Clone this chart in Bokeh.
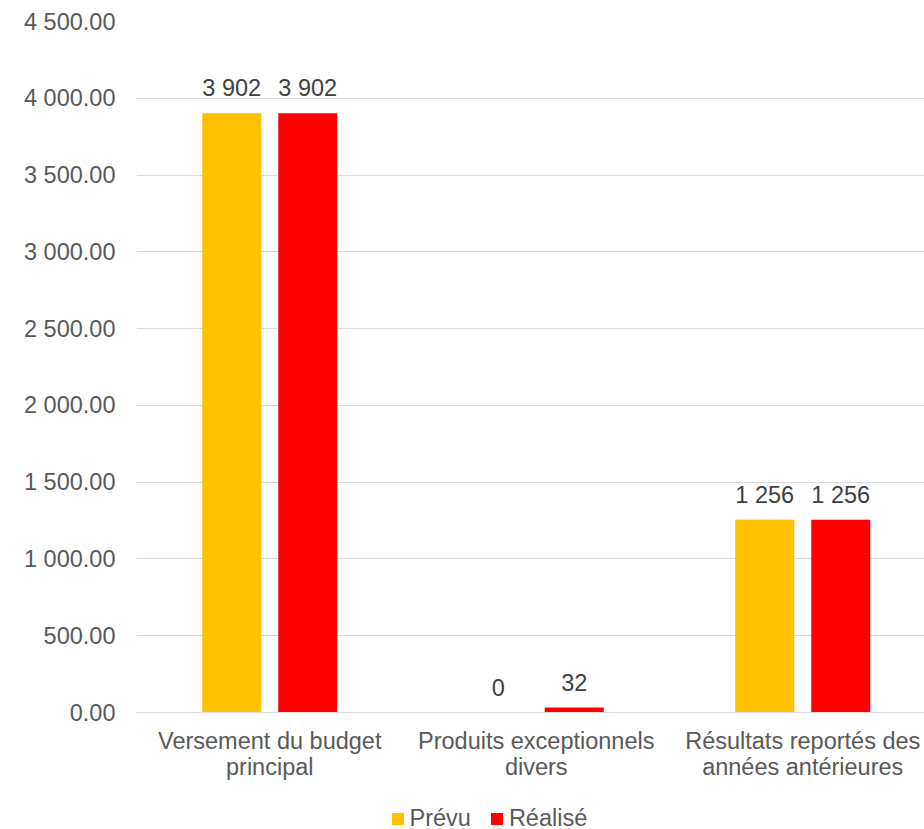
from bokeh.plotting import figure
from bokeh.layouts import column
from bokeh.models import ColumnDataSource, Range1d, FixedTicker, Legend, LegendItem
from bokeh.core.properties import value
from bokeh.embed import file_html
from bokeh.resources import INLINE

categories = ["Versement du budget\nprincipal", "Produits exceptionnels\ndivers", "Résultats reportés des\nannées antérieures"]
prevu = [3902, 0, 1256]
realise = [3902, 32, 1256]
series_names = ["Prévu", "Réalisé"]
series_colors = ["#FFC000", "#FF0000"]
y_ticks = [0, 500, 1000, 1500, 2000, 2500, 3000, 3500, 4000, 4500]
y_tick_labels = ["0.00", "500.00", "1 000.00", "1 500.00", "2 000.00", "2 500.00",
                 "3 000.00", "3 500.00", "4 000.00", "4 500.00"]

FONT = "Liberation Sans"
FS = "23.5px"

W, H = 924, 829
LEFT, TOP, FRAME_H, BOTTOM = 136, 21, 691, 80
H1 = TOP + FRAME_H + BOTTOM
H2 = H - H1
cat_w = 266.5
frame_w = W - LEFT
offset = 38 / cat_w
bar_w = 59 / cat_w


def fmt(v):
    return f"{v:,.0f}".replace(",", " ")


centers = [i + 0.5 for i in range(len(categories))]
src_p = ColumnDataSource(dict(x=[c - offset for c in centers], top=prevu, lab=[fmt(v) for v in prevu]))
src_r = ColumnDataSource(dict(x=[c + offset for c in centers], top=realise, lab=[fmt(v) for v in realise]))

p = figure(width=W, height=H1, output_backend="svg", toolbar_location=None,
           x_range=Range1d(0, frame_w / cat_w), y_range=Range1d(0, 4500),
           min_border_left=LEFT, min_border_right=0, min_border_top=TOP, min_border_bottom=BOTTOM)
p.outline_line_color = None
p.background_fill_color = "white"
p.border_fill_color = "white"

p.vbar(x="x", top="top", width=bar_w, source=src_p, fill_color=series_colors[0], line_color=None)
p.vbar(x="x", top="top", width=bar_w, source=src_r, fill_color=series_colors[1], line_color=None)

for src in (src_p, src_r):
    p.text(x="x", y="top", text="lab", source=src, text_align="center", text_baseline="alphabetic",
           y_offset=-25, text_font=value(FONT), text_font_size=FS, text_color="#404040")

p.xgrid.grid_line_color = None
p.ygrid.grid_line_color = "#d9d9d9"
p.ygrid.grid_line_width = 1

p.yaxis.ticker = FixedTicker(ticks=y_ticks)
p.yaxis.major_label_overrides = {t: l for t, l in zip(y_ticks, y_tick_labels)}
p.yaxis.axis_line_color = None
p.yaxis.major_tick_line_color = None
p.yaxis.minor_tick_line_color = None
p.yaxis.major_tick_out = 0
p.yaxis.major_tick_in = 0
p.yaxis.major_label_standoff = 21
p.yaxis.major_label_text_font = FONT
p.yaxis.major_label_text_font_size = FS
p.yaxis.major_label_text_color = "#595959"

p.xaxis.ticker = FixedTicker(ticks=centers)
p.xaxis.major_label_overrides = {c: l for c, l in zip(centers, categories)}
p.xaxis.axis_line_color = "#d9d9d9"
p.xaxis.axis_line_width = 1
p.xaxis.major_tick_line_color = None
p.xaxis.minor_tick_line_color = None
p.xaxis.major_tick_out = 0
p.xaxis.major_tick_in = 0
p.xaxis.major_label_standoff = 15
p.xaxis.major_label_text_line_height = 1.0
p.xaxis.major_label_text_font = FONT
p.xaxis.major_label_text_font_size = FS
p.xaxis.major_label_text_color = "#595959"

# legend strip below the chart (its frame is aligned with the chart frame)
lg = figure(width=W, height=H2, output_backend="svg", toolbar_location=None,
            x_range=Range1d(0, 1), y_range=Range1d(0, 1), x_axis_type=None, y_axis_type=None,
            min_border_left=0, min_border_right=0, min_border_top=0, min_border_bottom=0)
lg.outline_line_color = None
lg.xgrid.grid_line_color = None
lg.ygrid.grid_line_color = None
items = []
for name, col in zip(series_names, series_colors):
    # legend-only renderer, kept outside the visible range
    r = lg.vbar(x=[50], top=[1], width=0.1, fill_color=col, line_color=None)
    items.append(LegendItem(label=name, renderers=[r]))
legend = Legend(items=items, orientation="horizontal", location=(253.5, -3),
                glyph_width=15, glyph_height=15, label_standoff=5, spacing=18,
                padding=0, margin=0, border_line_color=None, background_fill_alpha=0,
                label_text_font=FONT, label_text_font_size=FS, label_text_color="#595959")
lg.add_layout(legend, "center")

layout = column(p, lg, spacing=0)
open("out.html", "w").write(file_html(layout, INLINE))
